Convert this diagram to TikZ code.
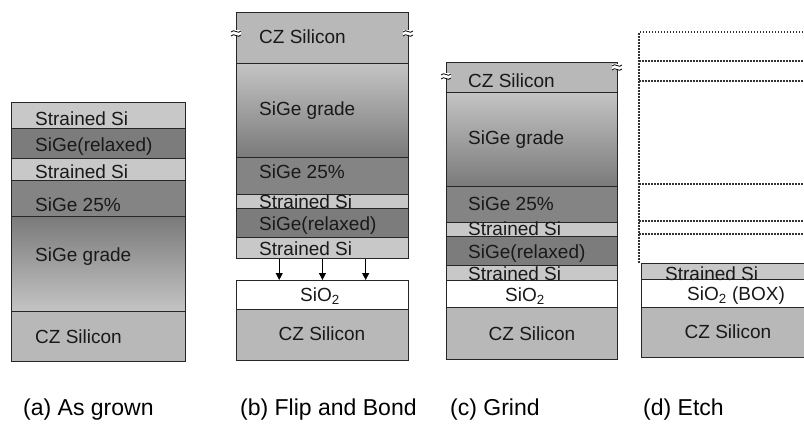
\documentclass[tikz,border=0pt]{standalone}
\usepackage{fontspec}
\setmainfont{Liberation Sans}
\usetikzlibrary{arrows.meta, calc}
\definecolor{strsi}{RGB}{200, 200, 200}
\definecolor{relax}{RGB}{124, 124, 124}
\definecolor{sige}{RGB}{132, 132, 132}
\definecolor{czsi}{RGB}{184, 184, 184}
\definecolor{gradelight}{RGB}{196, 196, 196}
\definecolor{gradedark}{RGB}{122, 122, 122}

\begin{document}
\begin{tikzpicture}[
  x=1pt, y=-1pt,
  layer/.style={draw=black!85, line width=0.9pt, inner sep=0pt, anchor=north west},
  strained/.style={layer, fill=strsi},
  relaxed/.style={layer, fill=relax},
  sige25/.style={layer, fill=sige},
  cz/.style={layer, fill=czsi},
  oxide/.style={layer, fill=white},
  gradeup/.style={layer, top color=gradedark, bottom color=gradelight},
  gradedown/.style={layer, top color=gradelight, bottom color=gradedark},
  txt/.style={font=\fontsize{19}{19}\selectfont, text=black!90, inner sep=0pt, anchor=base west},
  ctxt/.style={txt, anchor=base},
  caption/.style={font=\fontsize{23}{23}\selectfont, inner sep=0pt, anchor=base west},
  etched/.style={line width=1.6pt, dash pattern=on 1.5pt off 1.5pt, black!80},
  arr/.style={-{Triangle[length=7pt, width=7pt]}, line width=1pt}
]
  \useasboundingbox (0,0) rectangle (804,426);
  \clip (0,0) rectangle (804,426);

  % break mark on a cut edge
  \newcommand{\brk}[2]{%
    \fill[white] (#1-5,#2-3) rectangle (#1+5,#2+3);
    \draw[line width=0.8pt] (#1-5,#2-1) .. controls (#1-2,#2-5) and (#1+2,#2+2) .. (#1+5,#2-2);
    \draw[line width=0.8pt] (#1-5,#2+3) .. controls (#1-2,#2-1) and (#1+2,#2+6) .. (#1+5,#2+2);}

  % (a) as grown
  \node[strained, minimum width=174pt, minimum height=26pt] (a1) at (11,102) {};
  \node[relaxed, minimum width=174pt, minimum height=30pt] (a2) at (11,128) {};
  \node[strained, minimum width=174pt, minimum height=22pt] (a3) at (11,158) {};
  \node[sige25, minimum width=174pt, minimum height=36pt] (a4) at (11,180) {};
  \node[gradeup, minimum width=174pt, minimum height=95pt] (a5) at (11,216) {};
  \node[cz, minimum width=174pt, minimum height=50pt] (a6) at (11,311) {};
  \node[txt] (ta1) at (35,125) {Strained Si};
  \node[txt] (ta2) at (35,151) {SiGe(relaxed)};
  \node[txt] (ta3) at (35,178) {Strained Si};
  \node[txt] (ta4) at (35,211) {SiGe 25\%};
  \node[txt] (ta5) at (35,261) {SiGe grade};
  \node[txt] (ta6) at (35,343) {CZ Silicon};

  % (b) flip and bond
  \node[cz, minimum width=172pt, minimum height=51pt] (b1) at (236,12) {};
  \node[gradedown, minimum width=172pt, minimum height=94pt] (b2) at (236,63) {};
  \node[sige25, minimum width=172pt, minimum height=37pt] (b3) at (236,157) {};
  \node[strained, minimum width=172pt, minimum height=14pt] (b4) at (236,194) {};
  \node[relaxed, minimum width=172pt, minimum height=29pt] (b5) at (236,208) {};
  \node[strained, minimum width=172pt, minimum height=21pt] (b6) at (236,237) {};
  \node[oxide, minimum width=172pt, minimum height=29pt] (b7) at (236,280) {};
  \node[cz, minimum width=172pt, minimum height=51pt] (b8) at (236,309) {};
  \brk{236}{33}
  \brk{408}{33}
  \node[txt] (tb1) at (259,43) {CZ Silicon};
  \node[txt] (tb2) at (259,115) {SiGe grade};
  \node[txt] (tb3) at (259,178) {SiGe 25\%};
  \node[txt] (tb4) at (259,208) {Strained Si};
  \node[txt] (tb5) at (259,230) {SiGe(relaxed)};
  \node[txt] (tb6) at (259,255) {Strained Si};
  \node[ctxt] (tb7) at (320,301) {SiO\textsubscript{2}};
  \node[ctxt] (tb8) at (322,340) {CZ Silicon};
  \foreach \f in {0.25, 0.5, 0.75}
    \draw[arr] ($(b6.south west)!\f!(b6.south east)$) -- ($(b7.north west)!\f!(b7.north east)$);

  % (c) grind
  \node[cz, minimum width=171pt, minimum height=30pt] (c1) at (446,62) {};
  \node[gradedown, minimum width=171pt, minimum height=94pt] (c2) at (446,92) {};
  \node[sige25, minimum width=171pt, minimum height=36pt] (c3) at (446,186) {};
  \node[strained, minimum width=171pt, minimum height=14pt] (c4) at (446,222) {};
  \node[relaxed, minimum width=171pt, minimum height=29pt] (c5) at (446,236) {};
  \node[strained, minimum width=171pt, minimum height=15pt] (c6) at (446,265) {};
  \node[oxide, minimum width=171pt, minimum height=27pt] (c7) at (446,280) {};
  \node[cz, minimum width=171pt, minimum height=52pt] (c8) at (446,307) {};
  \brk{446}{76}
  \brk{617}{67}
  \node[txt] (tc1) at (468,87) {CZ Silicon};
  \node[txt] (tc2) at (468,144) {SiGe grade};
  \node[txt] (tc3) at (468,210) {SiGe 25\%};
  \node[txt] (tc4) at (468,235) {Strained Si};
  \node[txt] (tc5) at (468,258) {SiGe(relaxed)};
  \node[txt] (tc6) at (468,280) {Strained Si};
  \node[ctxt] (tc7) at (525,301) {SiO\textsubscript{2}};
  \node[ctxt] (tc8) at (532,340) {CZ Silicon};

  % (d) etch
  \draw[etched] (812,32) -- (639,32) -- (639,263);
  \foreach \yy in {61, 81, 184, 221, 234}
    \draw[etched] (639,\yy) -- (812,\yy);
  \node[strained, minimum width=171pt, minimum height=16pt] (d1) at (641,263) {};
  \node[oxide, minimum width=171pt, minimum height=28pt] (d2) at (641,279) {};
  \node[cz, minimum width=171pt, minimum height=50pt] (d3) at (641,307) {};
  \node[txt] (td1) at (665,280) {Strained Si};
  \node[txt] (td2) at (687,300) {SiO\textsubscript{2} (BOX)};
  \node[ctxt] (td3) at (728,338) {CZ Silicon};

  % captions
  \node[caption] (capa) at (23,415) {(a) As grown};
  \node[caption] (capb) at (240,415) {(b) Flip and Bond};
  \node[caption] (capc) at (450,415) {(c) Grind};
  \node[caption] (capd) at (643,415) {(d) Etch};
\end{tikzpicture}
\end{document}
